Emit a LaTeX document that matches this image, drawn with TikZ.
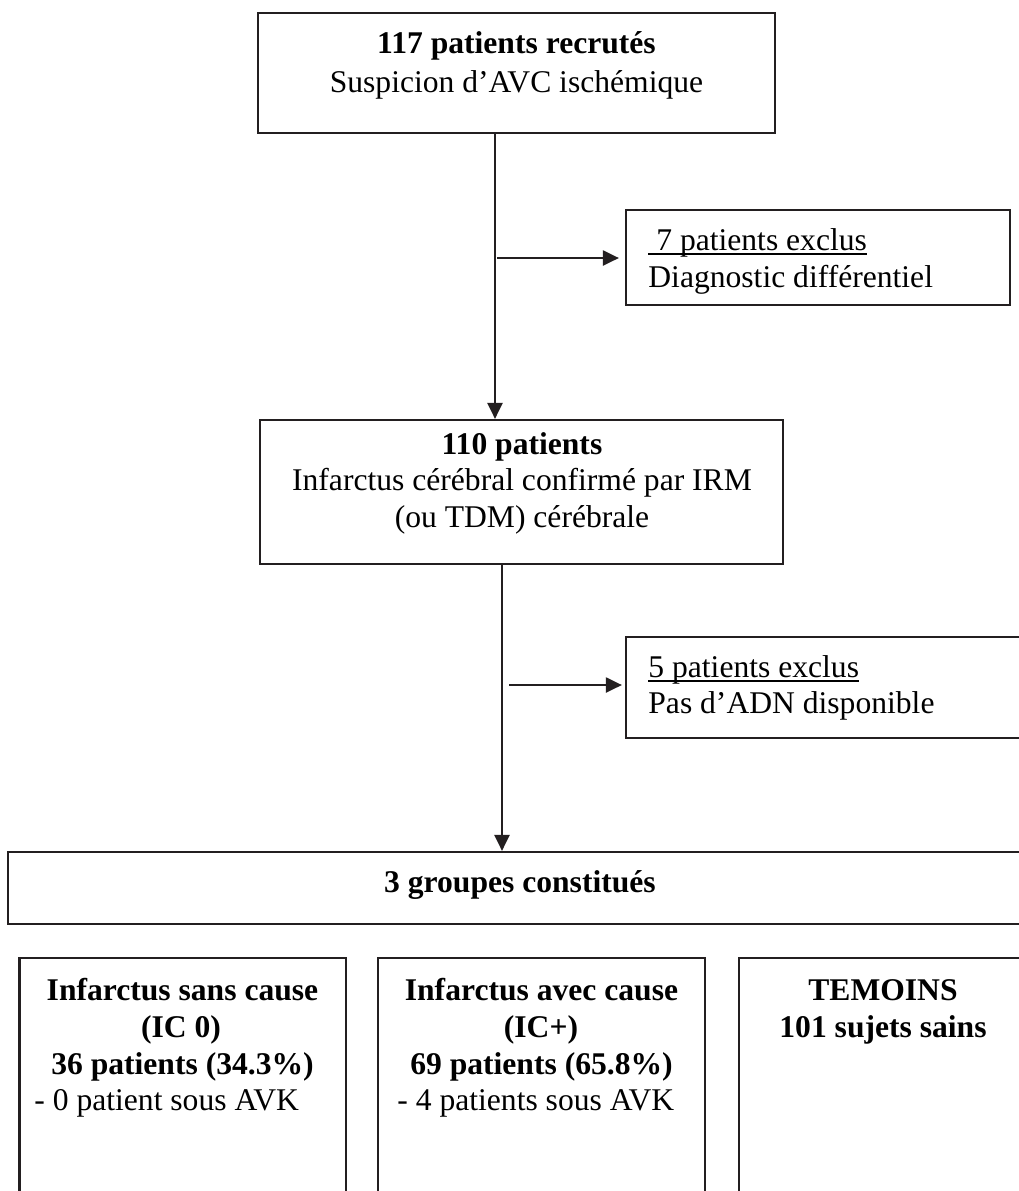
\documentclass[tikz,border=0pt]{standalone}
\usepackage{fontspec}
\setmainfont{Liberation Serif}
\usetikzlibrary{arrows.meta}
\newcommand\myuline[1]{\setbox0\hbox{#1}\rlap{\rule[-0.15em]{\wd0}{0.055em}}\box0}
\definecolor{ink}{RGB}{35,31,32}
\tikzset{
  box/.style={draw=ink, line width=1.1pt, rectangle, inner sep=0pt},
  txt/.style={inner sep=0pt, text=black, font=\fontsize{15.8pt}{18pt}\selectfont},
  arr/.style={draw=ink, line width=1.1pt, -{Triangle[length=8pt,width=7.5pt]}},
  lnk/.style={draw=ink, line width=1.1pt}
}
\begin{document}
\begin{tikzpicture}[x=0.5pt,y=-0.5pt]
\useasboundingbox (0,0) rectangle (1019,1191);
\clip (0,0) rectangle (1019,1191);
\fill[white] (0,0) rectangle (1019,1191);
% boxes
\node[box, minimum width=258.5pt, minimum height=60pt] (top) at (516.5,73) {};
\node[box, minimum width=261.5pt, minimum height=72pt] (mid) at (521.5,492) {};
\node[box, minimum width=192pt, minimum height=47.5pt] (ex1) at (818,257.5) {};
\node[box, minimum width=202pt, minimum height=50.5pt] (ex2) at (828,687.5) {};
\node[box, minimum width=512pt, minimum height=36pt] (grp) at (520,888) {};
\node[box, minimum width=163.25pt, minimum height=131pt] (g1) at (182.75,1089) {};
\node[box, minimum width=163.5pt, minimum height=131pt] (g2) at (541.5,1089) {};
\node[box, minimum width=163.5pt, minimum height=131pt] (g3) at (902.5,1089) {};
% texts
\node[txt, anchor=base] (t1a) at (516.5,53) {\textbf{117 patients recrutés}};
\node[txt, anchor=base] (t1b) at (516.5,92) {Suspicion d’AVC ischémique};
\node[txt, anchor=base] (t2a) at (522,454) {\textbf{110 patients}};
\node[txt, anchor=base] (t2b) at (522,490) {Infarctus cérébral confirmé par IRM};
\node[txt, anchor=base] (t2c) at (522,527) {(ou TDM) cérébrale};
\node[txt, anchor=base west] (e1a) at (648,250) {\myuline{\ 7 patients exclus}};
\node[txt, anchor=base west] (e1b) at (648,287) {Diagnostic différentiel};
\node[txt, anchor=base west] (e2a) at (648,677) {\myuline{5 patients exclus}};
\node[txt, anchor=base west] (e2b) at (648,713) {Pas d’ADN disponible};
\node[txt, anchor=base] (gt) at (520,892) {\textbf{3 groupes constitués}};
\node[txt, anchor=base] (g1a) at (182.5,1000) {\textbf{Infarctus sans cause}};
\node[txt, anchor=base] (g1b) at (181,1037) {\textbf{(IC 0)}};
\node[txt, anchor=base] (g1c) at (182.5,1074) {\textbf{36 patients (34.3\%)}};
\node[txt, anchor=base west] (g1d) at (34,1110) {- 0 patient sous AVK};
\node[txt, anchor=base] (g2a) at (541.5,1000) {\textbf{Infarctus avec cause}};
\node[txt, anchor=base] (g2b) at (541,1037) {\textbf{(IC+)}};
\node[txt, anchor=base] (g2c) at (541.5,1074) {\textbf{69 patients (65.8\%)}};
\node[txt, anchor=base west] (g2d) at (397,1110) {- 4 patients sous AVK};
\node[txt, anchor=base] (g3a) at (883,1000) {\textbf{TEMOINS}};
\node[txt, anchor=base] (g3b) at (883,1037) {\textbf{101 sujets sains}};
% connectors
\coordinate (v1) at (495,0);
\coordinate (v2) at (502,0);
\coordinate (h1) at (497,258);
\coordinate (h2) at (509,685);
\draw[arr] (v1 |- top.south) -- (v1 |- mid.north);
\draw[arr, shorten >=3pt] (h1) -- (h1 -| ex1.west);
\draw[arr] (v2 |- mid.south) -- (v2 |- grp.north);
\draw[arr, shorten >=1.5pt] (h2) -- (h2 -| ex2.west);
\end{tikzpicture}
\end{document}
